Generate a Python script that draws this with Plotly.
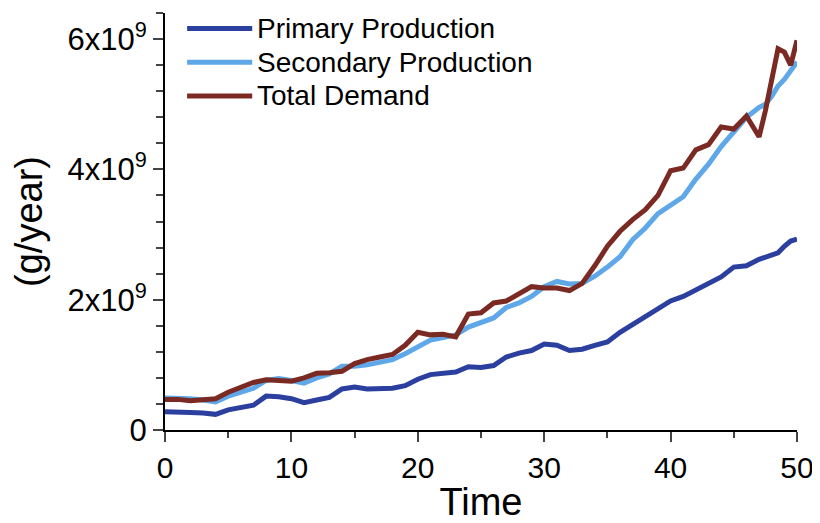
import plotly.graph_objects as go

# time points (extra half steps near the end where demand spikes)
time = sorted(set(list(range(0, 48)) + [47.5, 48, 48.5, 49, 49.5, 50]))

# values in units of 1e9 g/year
primary = [0.28, 0.28, 0.27, 0.26, 0.24, 0.31, 0.35, 0.38, 0.52, 0.51,
           0.48, 0.42, 0.46, 0.50, 0.63, 0.66, 0.63, 0.63, 0.64, 0.68,
           0.78, 0.85, 0.87, 0.89, 0.97, 0.96, 0.99, 1.12, 1.18, 1.22,
           1.32, 1.30, 1.22, 1.24, 1.30, 1.35, 1.50, 1.62, 1.72, 1.86,
           1.98, 2.05, 2.15, 2.25, 2.35, 2.50, 2.52, 2.62,
           2.66, 2.70, 2.72, 2.82, 2.90, 2.93]
secondary = [0.49, 0.49, 0.48, 0.46, 0.43, 0.52, 0.58, 0.64, 0.76, 0.79,
             0.76, 0.72, 0.80, 0.86, 0.98, 0.98, 1.00, 1.04, 1.08, 1.17,
             1.28, 1.38, 1.42, 1.46, 1.58, 1.66, 1.72, 1.88, 1.95, 2.05,
             2.20, 2.28, 2.24, 2.25, 2.36, 2.50, 2.66, 2.92, 3.10, 3.32,
             3.45, 3.58, 3.85, 4.08, 4.35, 4.57, 4.80, 4.95,
             5.00, 5.12, 5.28, 5.38, 5.50, 5.65]
demand = [0.47, 0.47, 0.45, 0.46, 0.48, 0.58, 0.66, 0.73, 0.77, 0.76,
          0.75, 0.80, 0.87, 0.88, 0.90, 1.02, 1.08, 1.12, 1.16, 1.30,
          1.50, 1.46, 1.47, 1.43, 1.78, 1.80, 1.95, 1.98, 2.10, 2.20,
          2.18, 2.18, 2.14, 2.25, 2.52, 2.82, 3.05, 3.23, 3.38, 3.60,
          3.98, 4.02, 4.30, 4.38, 4.65, 4.62, 4.82, 4.50,
          4.90, 5.35, 5.85, 5.80, 5.60, 5.98]

y_ticks = [0, 2e9, 4e9, 6e9]
y_tick_text = ["0", "2x10<sup>9</sup>", "4x10<sup>9</sup>", "6x10<sup>9</sup>"]

series = [
    ("Primary Production", primary, "#2b3f9e"),
    ("Secondary Production", secondary, "#5ea8ea"),
    ("Total Demand", demand, "#7a2a22"),
]

font = "Liberation Sans, Arial, sans-serif"

fig = go.Figure()
for name, vals, color in series:
    fig.add_trace(go.Scatter(x=time, y=[v * 1e9 for v in vals], name=name,
                             mode="lines", line=dict(color=color, width=5)))

# legend drawn by hand so the key lines can be long like the original
leg_x0, leg_x1, leg_tx = 0.035, 0.138, 0.143
leg_y0, leg_dy = 0.963, 0.081
for i, (name, vals, color) in enumerate(series):
    yy = leg_y0 - i * leg_dy
    fig.add_shape(type="line", xref="paper", yref="paper",
                  x0=leg_x0, x1=leg_x1, y0=yy, y1=yy,
                  line=dict(color=color, width=5))
    fig.add_annotation(x=leg_tx, y=yy, xref="paper", yref="paper",
                       text=name, showarrow=False, xanchor="left",
                       yanchor="middle", font=dict(size=28, family=font))

# page body has an 8px margin, so the figure is a bit smaller and shifted
fig.update_layout(
    width=812, height=515,
    margin=dict(l=157, r=23, t=5, b=93),
    plot_bgcolor="white", paper_bgcolor="white",
    font=dict(family=font, color="black"),
    showlegend=False,
    xaxis=dict(range=[0, 50], dtick=10, showline=True, linecolor="black",
               linewidth=2, ticks="outside", ticklen=10, tickwidth=2,
               showgrid=False, zeroline=False, automargin=False,
               tickfont=dict(size=30),
               minor=dict(dtick=5, ticks="outside", ticklen=6, tickwidth=2),
               title=dict(text="Time", font=dict(size=38), standoff=6)),
    yaxis=dict(range=[0, 6.4e9], tickvals=y_ticks, ticktext=y_tick_text,
               showline=True, linecolor="black", linewidth=2,
               ticks="outside", ticklen=10, tickwidth=2,
               showgrid=False, zeroline=False, automargin=False,
               tickfont=dict(size=31),
               minor=dict(dtick=0.4e9, ticks="outside", ticklen=7, tickwidth=2),
               title=dict(text="(g/year)", font=dict(size=38), standoff=14)),
)

fig.write_html("out.html")
